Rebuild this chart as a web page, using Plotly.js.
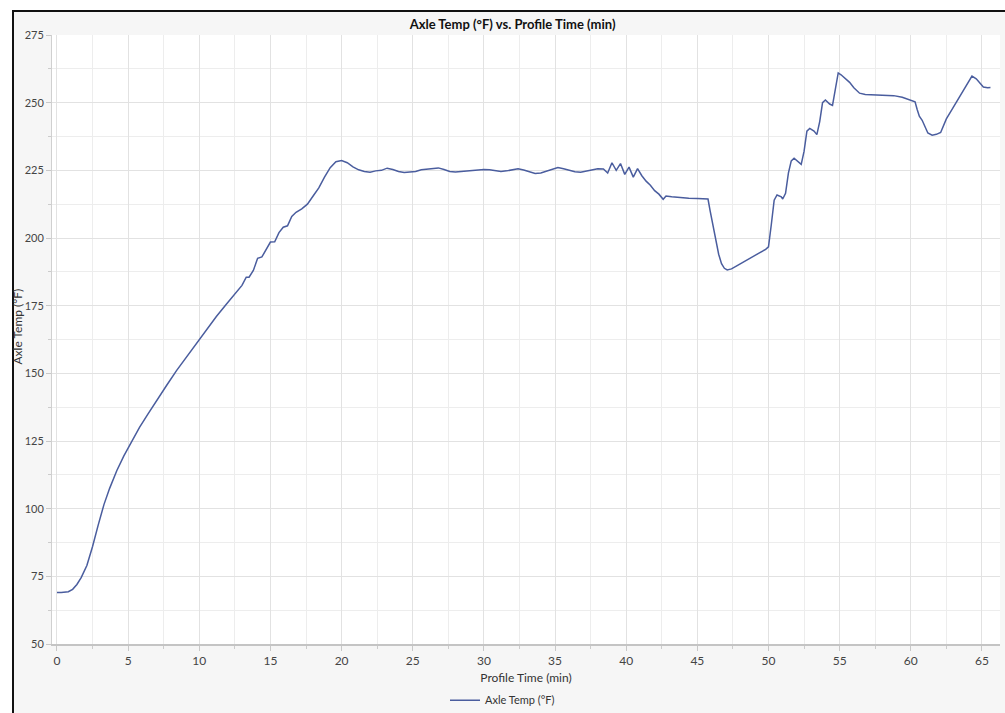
<!DOCTYPE html>
<html>
<head>
<meta charset="utf-8">
<script src="https://cdn.plot.ly/plotly-3.0.1.min.js"></script>
<style>
  html, body { margin: 0; padding: 0; background: #ffffff; }
  #frame { position: absolute; left: 12px; top: 10px; width: 1000px; height: 710px;
           border-left: 2px solid #111; border-top: 2px solid #111; background: #f6f6f6; }
  #chart { position: absolute; left: 0; top: 0; width: 1005px; height: 713px; }
</style>
</head>
<body>
<div id="frame"></div>
<div id="chart"></div>
<script>
const seriesName = "Axle Temp (°F)";
const chartTitle = "Axle Temp (°F) vs. Profile Time (min)";
const xTitle = "Profile Time (min)";
const yTitle = "Axle Temp (°F)";

const timeMin = [
  0, 0.3, 0.8, 1.1, 1.4, 1.7, 2.1, 2.5, 2.9, 3.3, 3.7, 4.2, 4.7, 5.2, 5.8, 6.4, 7.0, 7.7, 8.4, 9.1,
  9.8, 10.5, 11.2, 11.9, 12.5, 13.0, 13.3, 13.5, 13.8, 14.1, 14.4, 14.7, 15.0, 15.3, 15.6, 15.9, 16.2, 16.5, 16.8, 17.2,
  17.6, 18.0, 18.4, 18.8, 19.2, 19.6, 20.0, 20.4, 20.8, 21.2, 21.6, 22.0, 22.4, 22.8, 23.2, 23.6, 24.0, 24.4, 24.8, 25.2,
  25.6, 26.0, 26.4, 26.8, 27.2, 27.6, 28.0, 28.4, 28.8, 29.2, 29.6, 30.0, 30.4, 30.8, 31.2, 31.6, 32.0, 32.4, 32.8, 33.2,
  33.6, 34.0, 34.4, 34.8, 35.2, 35.6, 36.0, 36.4, 36.8, 37.2, 37.6, 38.0, 38.4, 38.7, 39.0, 39.3, 39.6, 39.9, 40.2, 40.5,
  40.8, 41.1, 41.4, 41.7, 42.0, 42.3, 42.6, 42.8, 43.2, 43.8, 44.4, 45.0, 45.4, 45.75, 45.9, 46.1, 46.3, 46.5, 46.7, 46.9,
  47.1, 47.4, 47.8, 48.3, 48.8, 49.3, 49.8, 50.0, 50.2, 50.4, 50.6, 50.9, 51.0, 51.2, 51.4, 51.6, 51.8, 52.1, 52.3, 52.5,
  52.7, 52.9, 53.2, 53.4, 53.6, 53.8, 54.0, 54.3, 54.5, 54.7, 54.9, 55.1, 55.4, 55.7, 56.0, 56.4, 56.8, 57.5, 58.2, 58.8,
  59.4, 59.9, 60.3, 60.45, 60.6, 60.8, 61.0, 61.2, 61.5, 61.8, 62.1, 62.3, 62.5, 62.9, 63.3, 63.7, 64.0, 64.3, 64.6, 64.9,
  65.1, 65.4, 65.6
];

const axleTemp = [
  69, 69, 69.3, 70.2, 72, 74.5, 79, 86, 94, 101.5, 107.5, 114, 119.5, 124.5, 130, 135, 140, 145.5, 151, 156,
  161, 166, 171, 175.5, 179.5, 182.5, 185.5, 185.5, 188, 192.5, 193, 196, 198.5, 198.6, 202, 204, 204.5, 208, 209.5, 210.8,
  212.5, 215.5, 218.5, 222.5, 226, 228.2, 228.6, 227.8, 226.3, 225.2, 224.6, 224.3, 224.8, 225.0, 225.8, 225.3, 224.6, 224.2, 224.3, 224.6,
  225.2, 225.4, 225.6, 225.9, 225.3, 224.6, 224.4, 224.6, 224.9, 225.0, 225.1, 225.3, 225.2, 224.9, 224.6, 224.8, 225.3, 225.6, 225.1, 224.4,
  223.8, 224.0, 224.6, 225.4, 226.0, 225.6, 225.1, 224.5, 224.3, 224.7, 225.2, 225.6, 225.5, 224.0, 227.8, 225.0, 227.5, 223.5, 226.2, 222.5,
  225.6, 223.0, 221.0, 219.5, 217.5, 216.2, 214.3, 215.5, 215.2, 214.9, 214.7, 214.6, 214.5, 214.4, 210, 205, 200, 194, 190.5, 188.8,
  188.2, 188.6, 189.8, 191.2, 192.8, 194.3, 195.8, 196.7, 205, 214, 215.9, 215.2, 214.4, 216.5, 224, 228.5, 229.5, 228, 227.2, 232,
  239.5, 240.5, 239.5, 238.2, 243, 250, 251, 249.5, 249, 255, 261, 260.3, 259, 257.5, 255.5, 253.5, 253, 252.9, 252.9, 252.6,
  252, 251.2, 250.3, 247.5, 245, 243.5, 241, 238.8, 238, 238.3, 239, 241.5, 244, 247.5, 251, 254.5, 257.5, 259.8, 258.8, 257,
  255.8, 255.5, 255.6
];

const xTicks = [0, 5, 10, 15, 20, 25, 30, 35, 40, 45, 50, 55, 60, 65];
const yTicks = [50, 75, 100, 125, 150, 175, 200, 225, 250, 275];

const fontFam = 'Lato, "Open Sans", sans-serif';

const trace = {
  x: timeMin, y: axleTemp, type: 'scatter', mode: 'lines', name: seriesName,
  line: { color: '#4a5d9e', width: 1.5 }
};

const layout = {
  width: 1005, height: 713,
  paper_bgcolor: 'rgba(0,0,0,0)', plot_bgcolor: '#ffffff',
  margin: { l: 52, r: 5, t: 35, b: 69, autoexpand: false },
  title: { text: '<b>' + chartTitle + '</b>', font: { family: fontFam, size: 13, color: '#111' },
           x: 0.51, xanchor: 'center', y: 0.966, yref: 'container', yanchor: 'middle' },
  showlegend: true,
  legend: { orientation: 'h', x: 0.5, xanchor: 'center', xref: 'container', y: 0.018, yref: 'container', yanchor: 'middle',
            itemwidth: 30, font: { family: fontFam, size: 11, color: '#333' }, bgcolor: 'rgba(0,0,0,0)' },
  annotations: [{
    text: yTitle, textangle: -90, xref: 'paper', yref: 'paper', x: -0.0365, y: 0.522,
    xanchor: 'center', yanchor: 'middle', showarrow: false,
    font: { family: fontFam, size: 12, color: '#333' }
  }],
  xaxis: {
    range: [-0.35, 66.27], tickvals: xTicks, ticktext: xTicks.map(String),
    showgrid: true, gridcolor: '#e2e2e2', gridwidth: 1,
    minor: { dtick: 2.5, tick0: 0, showgrid: true, gridcolor: '#ededed', ticks: 'outside', ticklen: 3, tickcolor: '#cccccc' },
    ticks: 'outside', ticklen: 5, tickcolor: '#c8c8c8',
    showline: true, linecolor: '#c4c4c4', linewidth: 2, zeroline: false,
    tickfont: { family: fontFam, size: 12, color: '#444' },
    title: { text: xTitle, font: { family: fontFam, size: 12, color: '#333' }, standoff: 6 }
  },
  yaxis: {
    range: [50, 275], tickvals: yTicks, ticktext: yTicks.map(String),
    showgrid: true, gridcolor: '#e2e2e2', gridwidth: 1,
    minor: { dtick: 12.5, tick0: 50, showgrid: true, gridcolor: '#ededed', ticks: 'outside', ticklen: 3, tickcolor: '#cccccc' },
    ticks: 'outside', ticklen: 5, tickcolor: '#c8c8c8',
    showline: true, linecolor: '#d0d0d0', linewidth: 1, zeroline: false,
    tickfont: { family: fontFam, size: 11, color: '#444' }
  }
};

Plotly.newPlot('chart', [trace], layout, { displayModeBar: false, responsive: false });
</script>
</body>
</html>
